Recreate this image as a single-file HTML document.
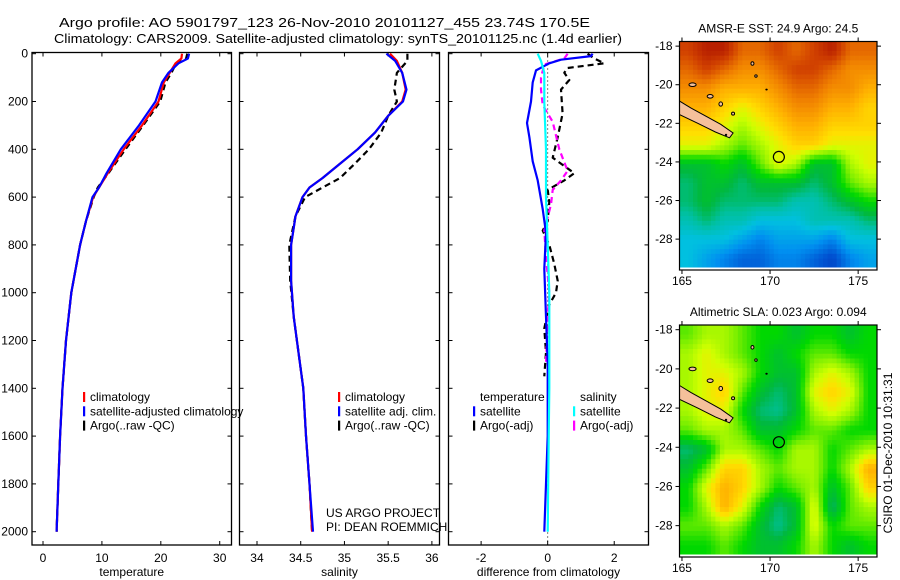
<!DOCTYPE html>
<html><head><meta charset="utf-8"><style>
html,body{margin:0;padding:0;background:#fff;width:900px;height:580px;overflow:hidden}
svg{display:block;font-family:"Liberation Sans",sans-serif}
</style></head><body>
<svg id="fig" width="900" height="580" viewBox="0 0 900 580" xmlns="http://www.w3.org/2000/svg">
<text x="59" y="27" font-size="13" textLength="531" lengthAdjust="spacingAndGlyphs">Argo profile: AO 5901797_123 26-Nov-2010 20101127_455 23.74S 170.5E</text>
<text x="54" y="43" font-size="13" textLength="568" lengthAdjust="spacingAndGlyphs">Climatology: CARS2009. Satellite-adjusted climatology: synTS_20101125.nc (1.4d earlier)</text>
<g id="plots"></g>
<text transform="translate(892,453) rotate(-90)" font-size="12" text-anchor="middle">CSIRO 01-Dec-2010 10:31:31</text>
</svg>
<script>
// ---------- data ----------
const depthT = [0,20,40,80,120,200,300,400,500,560,600,700,800,1000,1200,1400,1600,1800,2000];
const tempClim = [23.6,23.5,22.5,21.5,20.5,19.6,16.8,13.7,11,9.5,8.5,7.3,6.3,4.8,3.9,3.3,2.9,2.6,2.3];
const tempSat  = [24.8,24.6,23,21.3,20.2,19.1,16.3,13.2,10.8,9.5,8.4,7.3,6.3,4.8,3.9,3.3,2.9,2.6,2.3];
const tempArgo = [24.5,24.3,22.6,21.8,20.8,19.9,17.0,14.0,11.1,9.3,8.6,7.3,6.3,4.8,3.9,3.3,2.9,2.6,2.3];
const depthS = [0,30,80,150,200,260,330,400,460,520,560,600,680,800,950,1100,1400,1600,1800,2000];
const salClim = [35.52,35.6,35.66,35.7,35.66,35.5,35.35,35.15,34.95,34.75,34.6,34.52,34.44,34.39,34.39,34.42,34.53,34.56,34.6,34.63];
const salSat  = [35.48,35.58,35.66,35.71,35.67,35.5,35.35,35.15,34.95,34.75,34.6,34.52,34.44,34.39,34.39,34.42,34.53,34.56,34.6,34.64];
const salArgo = [35.72,35.72,35.6,35.57,35.6,35.5,35.42,35.28,35.12,34.95,34.75,34.55,34.44,34.37,34.38,34.42,34.53,34.56,34.6,34.63];
const depthDT = [0,10,25,40,70,120,200,290,350,450,530,650,750,900,1100,1300,1600,1800,2000];
const diffTSat = [1.35,1.3,0.4,0.05,-0.35,-0.45,-0.5,-0.62,-0.55,-0.45,-0.3,-0.15,-0.05,-0.1,-0.05,0,0,-0.05,-0.1];
const depthDTA = [0,20,40,60,80,110,150,250,350,435,500,530,570,620,700,740,800,880,950,1000,1050,1150,1250,1350];
const diffTArgo = [1.2,1.4,1.7,0.6,0.5,0.65,0.4,0.45,0.3,0.15,0.8,0.5,0,0.05,0,-0.15,0.05,0.2,0.3,0.25,0.05,-0.1,-0.05,-0.1];
const depthDS = [0,30,80,200,400,600,800,1000,1200,1400,1600,2000];
const diffSSat = [-0.3,-0.2,-0.1,-0.1,-0.05,-0.05,0,0.05,0.05,0.05,0.03,0];
const depthDSA = [0,20,45,100,150,215,285,400,490,530,570,630,740,850,1000,1100,1300];
const diffSArgo = [0.6,0.5,-0.1,-0.2,-0.2,-0.15,0.15,0.35,0.6,0.4,0.15,0.1,-0.1,-0.05,0.05,0,-0.05];
const tempTicks = [0,10,20,30];
const salTicks = [34,34.5,35,35.5,36];
const salTickLabels = ["34","34.5","35","35.5","36"];
const diffTicks = [-2,0,2];
const depthTicks = [0,200,400,600,800,1000,1200,1400,1600,1800,2000];
const lonTicks = [165,170,175];
const latTicks = [-18,-20,-22,-24,-26,-28];
const sstGrid = [
[.9,.95,.95,.85,.85,.9,.85,.9,.95,.85,.85],
[.85,.9,.85,.8,.8,.85,.9,.9,.85,.8,.8],
[.8,.8,.75,.75,.75,.8,.85,.85,.8,.8,.75],
[.75,.75,.7,.65,.7,.75,.8,.8,.75,.75,.7],
[.7,.7,.65,.6,.65,.7,.75,.75,.7,.7,.7],
[.65,.65,.6,.55,.6,.65,.7,.7,.65,.65,.65],
[.45,.45,.5,.45,.55,.65,.6,.45,.45,.6,.65],
[.4,.45,.45,.4,.45,.45,.45,.4,.45,.55,.6],
[.4,.45,.4,.4,.4,.4,.35,.35,.4,.45,.5],
[.35,.4,.35,.35,.3,.3,.3,.35,.35,.35,.4],
[.3,.3,.3,.25,.2,.25,.25,.25,.2,.3,.3],
[.3,.25,.2,.15,.15,.2,.2,.15,.1,.2,.25]];
const slaGrid = [
[.55,.6,.6,.55,.5,.5,.45,.5,.5,.45,.5],
[.6,.65,.6,.55,.5,.45,.5,.55,.55,.5,.5],
[.6,.65,.65,.6,.5,.45,.45,.6,.65,.6,.5],
[.6,.65,.7,.55,.45,.4,.45,.65,.7,.65,.5],
[.6,.65,.65,.5,.4,.38,.45,.6,.65,.6,.5],
[.55,.6,.6,.55,.45,.45,.5,.55,.55,.5,.5],
[.4,.45,.6,.6,.55,.5,.6,.6,.5,.55,.6],
[.45,.55,.7,.7,.6,.55,.6,.6,.5,.6,.75],
[.5,.65,.75,.7,.6,.5,.55,.6,.45,.55,.7],
[.5,.6,.75,.65,.5,.4,.45,.65,.4,.55,.6],
[.55,.55,.6,.55,.45,.38,.45,.65,.5,.55,.55],
[.5,.5,.55,.5,.45,.45,.5,.6,.5,.45,.5]];
const argoLon = [170.5];
const argoLat = [-23.74];

// ---------- helpers ----------
const NS = "http://www.w3.org/2000/svg";
const root = document.getElementById('plots');
function el(tag, attrs, parent){const e=document.createElementNS(NS,tag);for(const k in attrs)e.setAttribute(k,attrs[k]);(parent||root).appendChild(e);return e;}
function txt(x,y,s,size,anchor,parent){const t=el('text',{x:x,y:y,'font-size':size,'text-anchor':anchor||'start'},parent);t.textContent=s;return t;}

const TOP=52.5, BOT=545;
const yD = d => 53.7 + d*0.239;
const panels = [
 {name:'temperature', x0:32, x1:231.5, xmin:-1.87, xmax:32},
 {name:'salinity', x0:239.5, x1:439.5, xmin:33.8, xmax:36.087},
 {name:'difference', x0:448.5, x1:648.5, xmin:-2.98, xmax:3.03}];
panels.forEach(p=>{p.sx = v => p.x0 + (v-p.xmin)/(p.xmax-p.xmin)*(p.x1-p.x0);});

function frame(p, xt, xl, label, showY){
  const g = el('g',{});
  
  
  el('rect',{x:p.x0,y:TOP,width:p.x1-p.x0,height:BOT-TOP,fill:'none',stroke:'#000','stroke-width':1.3},g);
  xt.forEach((v,i)=>{const x=p.sx(v);
    el('line',{x1:x,y1:TOP,x2:x,y2:TOP+4,stroke:'#000'},g);
    el('line',{x1:x,y1:BOT,x2:x,y2:BOT-4,stroke:'#000'},g);
    const t=txt(x,562,xl[i],12,'middle',g);
    
    
  });
  depthTicks.forEach(d=>{const y=yD(d);
    el('line',{x1:p.x0,y1:y,x2:p.x0+4,y2:y,stroke:'#000'},g);
    el('line',{x1:p.x1,y1:y,x2:p.x1-4,y2:y,stroke:'#000'},g);
    if(showY){const t=txt(28,y+4,String(d),12,'end',g);
      
      }
  });
  const t=txt((p.x0+p.x1)/2,576,label,12,'middle',g);
  
  
}
function series(p, depths, vals, color, dash, name){
  const pts = depths.map((d,i)=>p.sx(vals[i]).toFixed(1)+','+yD(d).toFixed(1)).join(' ');
  const l = el('polyline',{points:pts,fill:'none',stroke:color,'stroke-width':2.2,'stroke-dasharray':dash||'none','stroke-linejoin':'round'});
  
  
}
function legend(x,y,items,name){
  const g = el('g',{});
  
  
  items.forEach((it,i)=>{const yy=y+i*14.3;
    if(it[0]) el('rect',{x:x,y:yy-9,width:2.2,height:10,fill:it[0]},g);
    txt(x+7,yy,it[1],12,'start',g);
  });
}

const P1=panels[0], P2=panels[1], P3=panels[2];
frame(P1, tempTicks, tempTicks.map(String), 'temperature', true);
series(P1, depthT, tempArgo, '#000', '6,4', 'argo-temperature-line');
series(P1, depthT, tempClim, '#f00', null, 'climatology-temperature-line');
series(P1, depthT, tempSat, '#00f', null, 'satellite-temperature-line');
legend(83,401,[['#f00','climatology'],['#00f','satellite-adjusted climatology'],['#000','Argo(..raw -QC)']],'temperature-legend');
frame(P2, salTicks, salTickLabels, 'salinity', false);
series(P2, depthS, salArgo, '#000', '6,4', 'argo-salinity-line');
series(P2, depthS, salClim, '#f00', null, 'climatology-salinity-line');
series(P2, depthS, salSat, '#00f', null, 'satellite-salinity-line');
legend(338,401,[['#f00','climatology'],['#00f','satellite adj. clim.'],['#000','Argo(..raw -QC)']],'salinity-legend');
txt(326,517,'US ARGO PROJECT',12);
txt(326,531,'PI: DEAN ROEMMICH',12);
frame(P3, diffTicks, diffTicks.map(String), 'difference from climatology', false);
el('line',{x1:P3.sx(0),y1:TOP,x2:P3.sx(0),y2:BOT,stroke:'#000','stroke-dasharray':'1,3'});
series(P3, depthDTA, diffTArgo, '#000', '6,4', 'argo-temperature-diff-line');
series(P3, depthDSA, diffSArgo, '#f0f', '6,4', 'argo-salinity-diff-line');
series(P3, depthDT, diffTSat, '#00f', null, 'satellite-temperature-diff-line');
series(P3, depthDS, diffSSat, '#0ff', null, 'satellite-salinity-diff-line');
legend(473,401,[[null,'temperature'],['#00f','satellite'],['#000','Argo(-adj)']],'diff-temperature-legend');
legend(573,401,[[null,'salinity'],['#0ff','satellite'],['#f0f','Argo(-adj)']],'diff-salinity-legend');

// ---------- maps ----------
const cmapStops=[[0,[0,32,160]],[0.12,[0,80,208]],[0.22,[0,144,240]],[0.3,[0,192,224]],[0.37,[0,192,160]],[0.43,[0,184,64]],[0.5,[0,216,0]],[0.57,[128,240,0]],[0.63,[208,255,0]],[0.68,[255,224,0]],[0.75,[255,176,0]],[0.82,[240,128,0]],[0.9,[208,64,0]],[1,[160,0,0]]];
function cmap(v){v=Math.max(0,Math.min(1,v));
  for(let k=1;k<cmapStops.length;k++){if(v<=cmapStops[k][0]){const a=cmapStops[k-1],b=cmapStops[k],t=(v-a[0])/(b[0]-a[0]);
    return 'rgb('+a[1].map((c,i)=>Math.round(c+(b[1][i]-c)*t)).join(',')+')';}}
  return 'rgb(160,0,0)';}
function map(grid, top, bot, title, name){
  const L=679.5, R=877, lon0=164.86, lon1=176.07, lat0=-17.76, lat1=-29.6;
  const sx = lo => L + (lo-lon0)/(lon1-lon0)*(R-L);
  const sy = la => top + (la-lat0)/(lat1-lat0)*(bot-top);
  const g = el('g',{});
  
  
  const rows=grid.length, cols=grid[0].length, sub=4;
  const cw=(R-L)/(cols*sub), ch=(bot-top-2)/(rows*sub);
  for(let i=0;i<rows*sub;i++)for(let j=0;j<cols*sub;j++){
    const fy=Math.max(0,Math.min(rows-1,(i+0.5)/sub-0.5)), fx=Math.max(0,Math.min(cols-1,(j+0.5)/sub-0.5));
    const i0=Math.floor(fy), j0=Math.floor(fx), i1=Math.min(rows-1,i0+1), j1=Math.min(cols-1,j0+1), ty=fy-i0, tx=fx-j0;
    const v=(grid[i0][j0]*(1-tx)+grid[i0][j1]*tx)*(1-ty)+(grid[i1][j0]*(1-tx)+grid[i1][j1]*tx)*ty;
    const c=el('rect',{x:(L+j*cw).toFixed(2),y:(top+i*ch).toFixed(2),width:(cw+0.4).toFixed(2),height:(ch+0.4).toFixed(2),fill:cmap(v)},g);
    
    
  }
  const land=[[164.86,-20.85],[165.5,-21.2],[166.4,-21.65],[167.2,-22.05],[167.9,-22.5],[167.7,-22.75],[166.9,-22.45],[165.9,-22.0],[164.86,-21.55]];
  const lp=el('polygon',{points:land.map(p=>sx(p[0]).toFixed(1)+','+sy(p[1]).toFixed(1)).join(' '),fill:'#f5c09a',stroke:'#000','stroke-width':1},g);
  
  
  [[165.6,-20.0,0.6,0.3],[166.6,-20.6,0.5,0.3],[167.2,-21.0,0.3,0.35],[167.9,-21.5,0.25,0.25],[169.0,-18.9,0.25,0.3],[169.2,-19.55,0.2,0.2],[169.8,-20.25,0.12,0.08],[167.5,-22.6,0.12,0.1]].forEach(p=>{
    const e=el('ellipse',{cx:sx(p[0]),cy:sy(p[1]),rx:p[2]*6,ry:p[3]*6,fill:'#f5c09a',stroke:'#000','stroke-width':1},g);
    
    
  });
  el('rect',{x:L,y:bot-2.5,width:R-L,height:2.5,fill:'#fff'},g);
  const c=el('circle',{cx:sx(argoLon[0]),cy:sy(argoLat[0]),r:5.5,fill:'none',stroke:'#000','stroke-width':1.2},g);
  
  
  el('rect',{x:L,y:top,width:R-L,height:bot-top,fill:'none',stroke:'#000','stroke-width':1.2},g);
  lonTicks.forEach(lo=>{const x=sx(lo);
    el('line',{x1:x,y1:top,x2:x,y2:top-4,stroke:'#000'},g);
    el('line',{x1:x,y1:bot,x2:x,y2:bot+4,stroke:'#000'},g);
    const t=txt(x,bot+15,String(lo),12,'middle',g);
    
    
  });
  latTicks.forEach(la=>{const y=sy(la);
    el('line',{x1:L,y1:y,x2:L-4,y2:y,stroke:'#000'},g);
    el('line',{x1:R,y1:y,x2:R+4,y2:y,stroke:'#000'},g);
    const t=txt(L-7,y+4,String(la),12,'end',g);
    
    
  });
  const t=txt((L+R)/2,top-9,title,12,'middle',g);
  
  
}
map(sstGrid, 41.5, 270, 'AMSR-E SST: 24.9 Argo: 24.5', 'sst-map');
map(slaGrid, 325, 557, 'Altimetric SLA: 0.023 Argo: 0.094', 'sla-map');
</script>
</body></html>
